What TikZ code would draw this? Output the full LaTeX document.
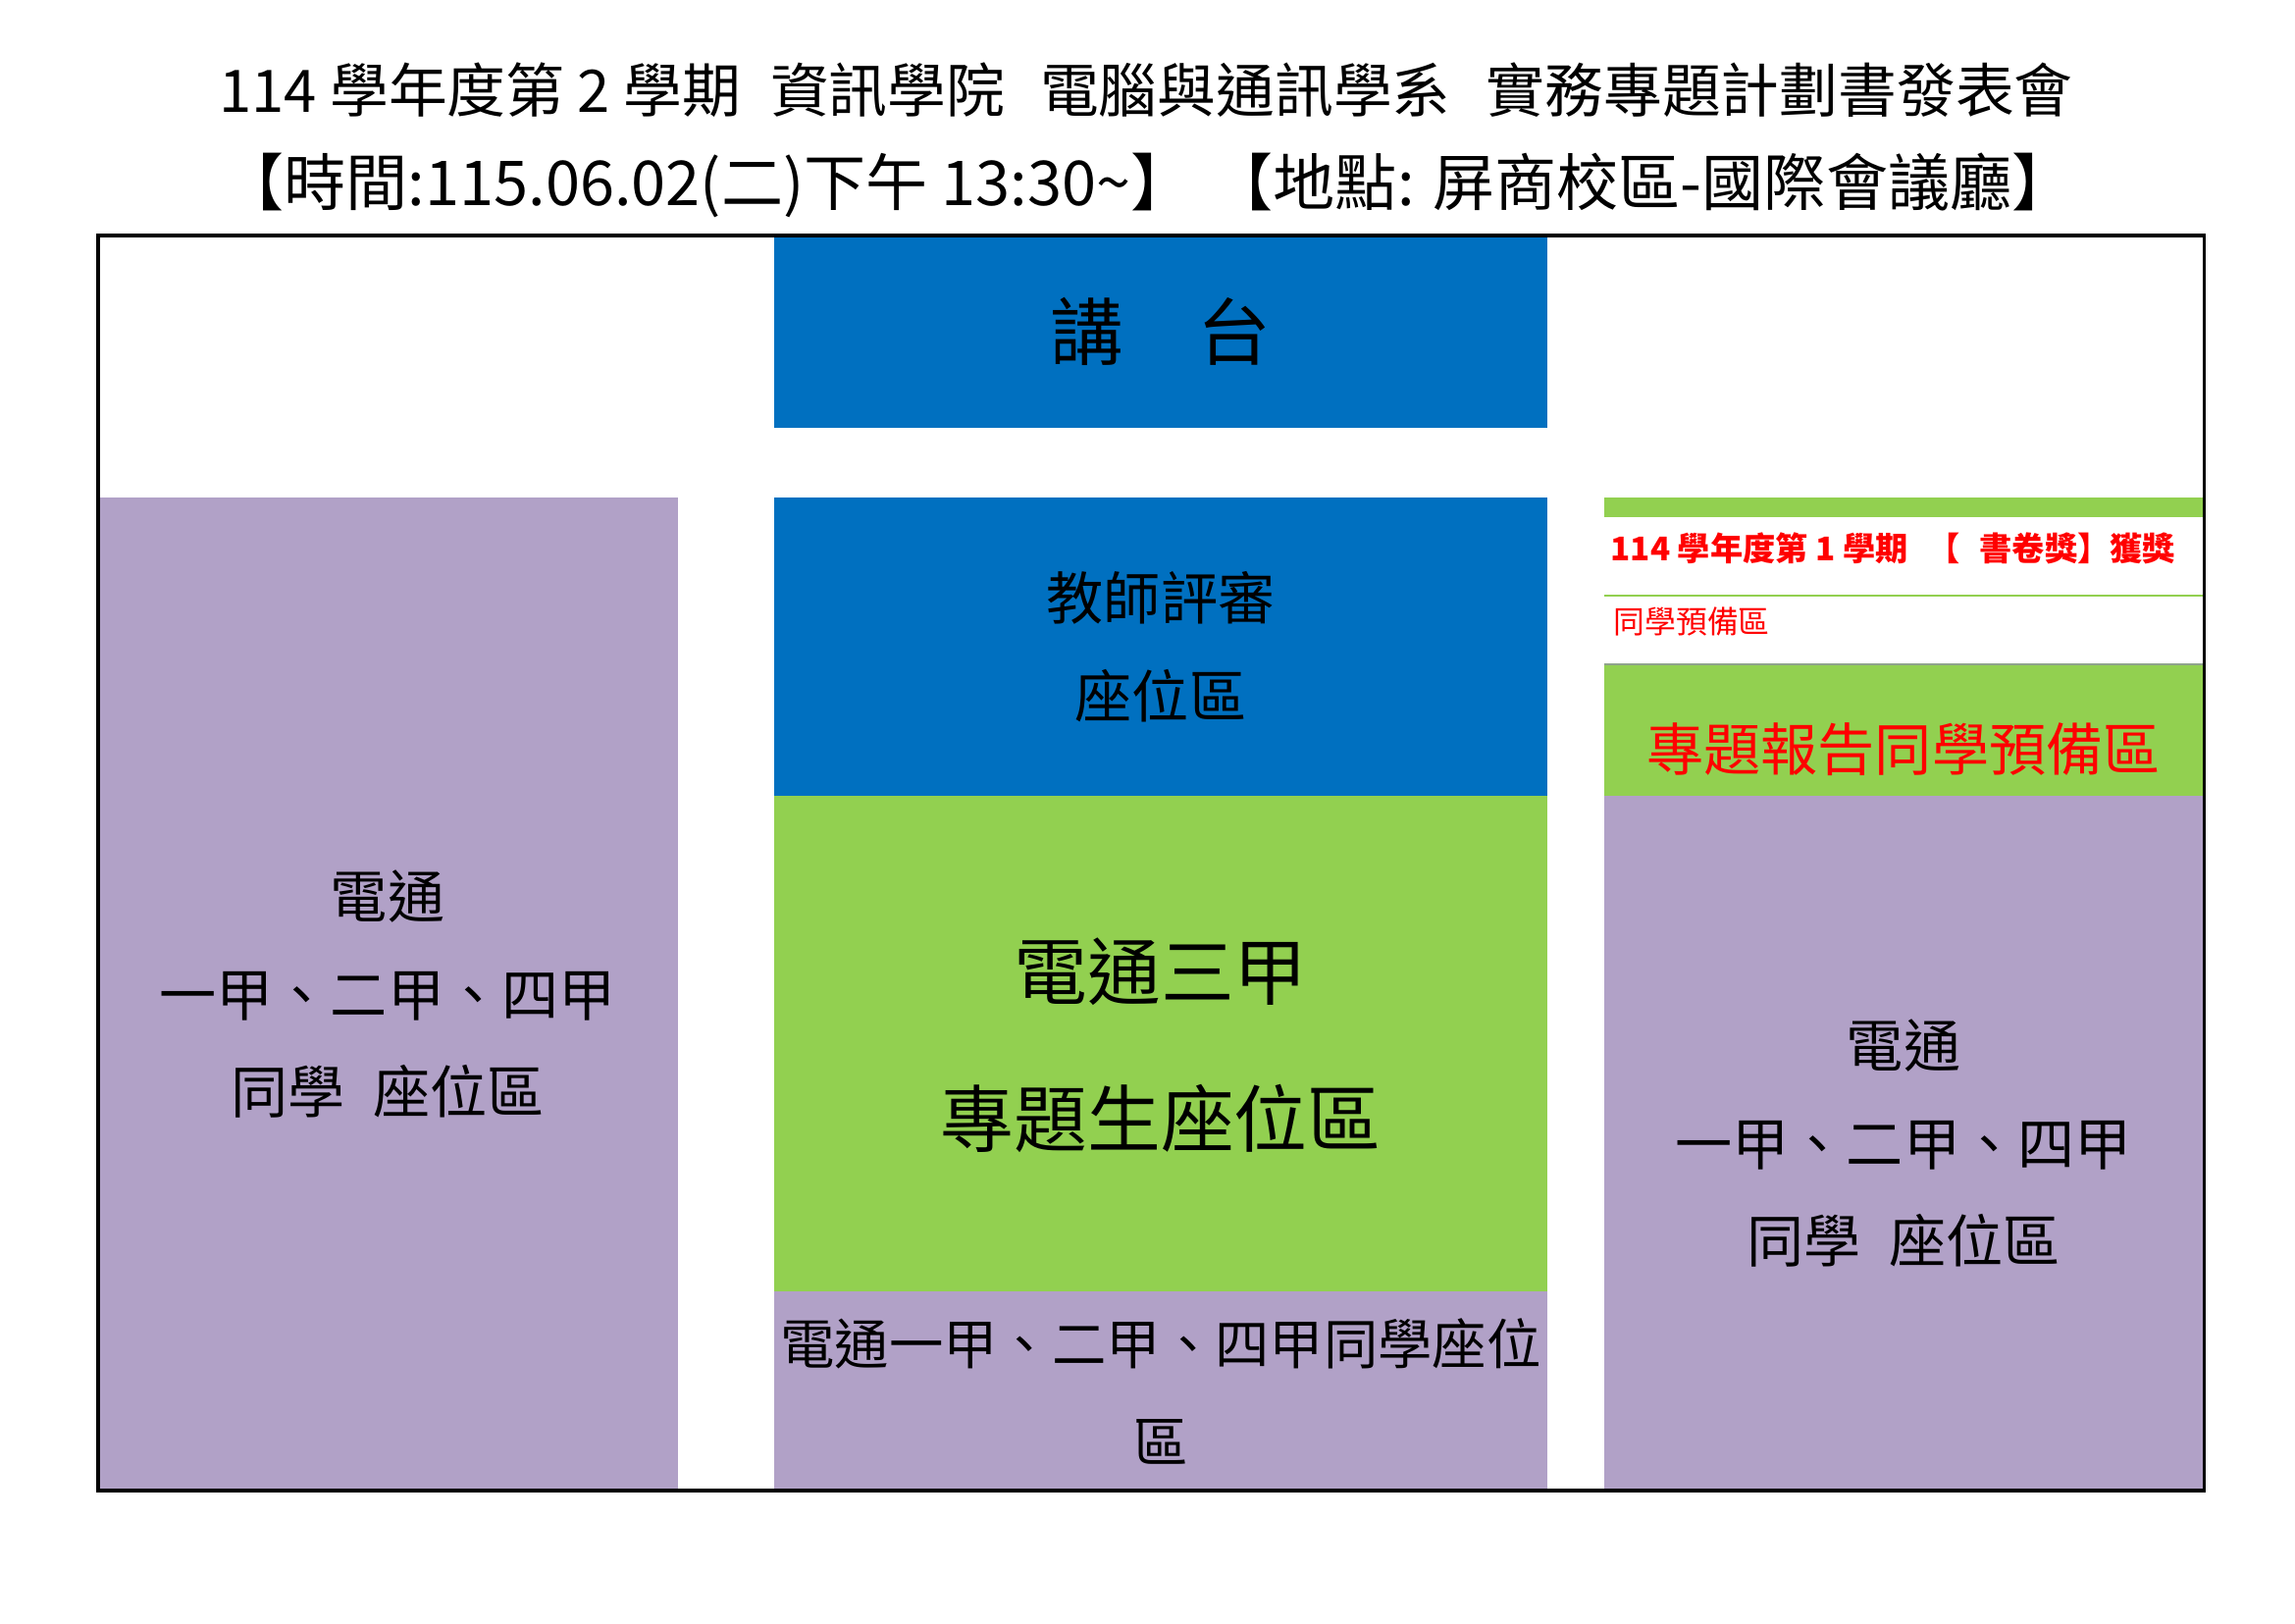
\documentclass[tikz,border=0pt]{standalone}
\usepackage{fontspec}
\setmainfont{Noto Sans CJK TC}
\definecolor{stageblue}{HTML}{0070C0}
\definecolor{zonegreen}{HTML}{92D050}
\definecolor{zonepurple}{HTML}{B1A1C7}
\definecolor{linegray}{HTML}{8FA38B}

\begin{document}
\begin{tikzpicture}[
		x=0.0127cm, y=-0.0127cm,
		stage/.style={fill=stageblue},
		seat/.style={fill=zonepurple},
		study/.style={fill=zonegreen},
		zonetext/.style={align=center, inner sep=0pt, font=\fontsize{21}{36}\selectfont},
		titletext/.style={inner sep=0pt, font=\fontsize{21.6}{25}\selectfont},
		redtext/.style={text=red, inner sep=0pt}
	]
	\useasboundingbox (0,0) rectangle (2339,1654);

	% 標題
	\node[titletext] (title) at (1168,92) {114 學年度第 2 學期\hspace{0.5em}資訊學院\hspace{0.6em}電腦與通訊學系\hspace{0.6em}實務專題計劃書發表會};
	\node[titletext, font=\fontsize{22.8}{25}\selectfont] (info) at (1170,189) {【時間:115.06.02(二)下午 13:30\textasciitilde】\hspace{0.3em}【地點: 屏商校區-國際會議廳】};

	% 講台
	\fill[stage] (789,240) rectangle (1577,436);
	\node[zonetext, font=\fontsize{27}{30}\selectfont] (podium) at (1183,338) {講　台};

	% 左側座位區
	\fill[seat] (100,507) rectangle (691,1519);
	\node[zonetext] (leftseat) at (395,1013) {電通\\一甲、二甲、四甲\\同學\hspace{0.5em}座位區};

	% 中間區塊
	\fill[stage] (789,507) rectangle (1577,811);
	\node[zonetext] (judges) at (1183,659) {教師評審\\座位區};
	\fill[study] (789,811) rectangle (1577,1316);
	\node[zonetext, font=\fontsize{27}{54}\selectfont] (presenters) at (1183,1065) {電通三甲\\專題生座位區};
	\fill[seat] (789,1316) rectangle (1577,1519);
	\node[zonetext, font=\fontsize{20}{36}\selectfont] (midseat) at (1183,1418) {電通一甲、二甲、四甲同學座位\\區};

	% 右側區塊
	\fill[study] (1635,507) rectangle (2246,527);
	\node[redtext, anchor=west, font=\bfseries\fontsize{12}{14}\selectfont] (award) at (1641,559) {114 學年度第 1 學期\hspace{0.6em}【\hspace{0.6em}書卷獎】獲獎};
	\draw[zonegreen, line width=0.8pt] (1635,607) -- (2246,607);
	\node[redtext, anchor=west, font=\fontsize{11.5}{14}\selectfont] (awardwait) at (1644,633) {同學預備區};
	\fill[study] (1635,676) rectangle (2246,811);
	\draw[linegray, line width=0.8pt] (1635,677) -- (2246,677);
	\node[redtext, font=\fontsize{21}{25}\selectfont] (reportwait) at (1940,764) {專題報告同學預備區};
	\fill[seat] (1635,811) rectangle (2246,1519);
	\node[zonetext] (rightseat) at (1940,1165) {電通\\一甲、二甲、四甲\\同學\hspace{0.5em}座位區};

	% 外框
	\draw[line width=1.1pt] (100,240) rectangle (2246,1519);
\end{tikzpicture}
\end{document}
